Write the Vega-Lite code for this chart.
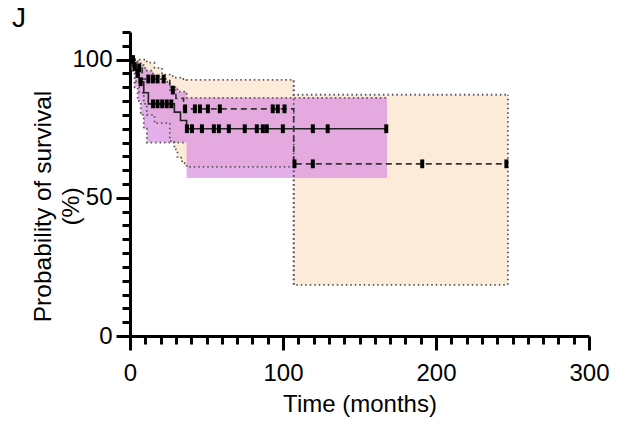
{
  "$schema": "https://vega.github.io/schema/vega-lite/v6.json",
  "width": 459,
  "height": 304,
  "autosize": "none",
  "padding": {"left": 130, "top": 32, "right": 38, "bottom": 93},
  "background": "white",
  "config": {"view": {"stroke": null}, "font": "Liberation Sans"},
  "title": {"text": "J", "anchor": "start", "frame": "group", "fontSize": 28, "fontWeight": "normal", "dx": -118, "dy": 35, "offset": 0, "baseline": "alphabetic", "color": "black"},
  "datasets": {
    "survA": [
      {"t": 0, "s": 100}, {"t": 2, "s": 97.5}, {"t": 4, "s": 95}, {"t": 6, "s": 92}, {"t": 9, "s": 88}, {"t": 12, "s": 84},
      {"t": 29, "s": 81}, {"t": 33, "s": 78}, {"t": 37, "s": 75}, {"t": 168, "s": 75}
    ],
    "survB": [
      {"t": 0, "s": 100}, {"t": 4, "s": 97}, {"t": 8, "s": 93}, {"t": 26, "s": 89}, {"t": 30, "s": 86}, {"t": 35, "s": 82.2},
      {"t": 107, "s": 62.3}, {"t": 247, "s": 62.3}
    ],
    "ciA": [
      {"t": 0, "lo": 100, "hi": 100}, {"t": 1, "lo": 96, "hi": 100}, {"t": 3, "lo": 90, "hi": 99.5}, {"t": 5, "lo": 85, "hi": 99},
      {"t": 7, "lo": 80, "hi": 98}, {"t": 9, "lo": 75, "hi": 97}, {"t": 11, "lo": 70, "hi": 96}, {"t": 15, "lo": 70, "hi": 94},
      {"t": 20, "lo": 70, "hi": 92}, {"t": 26, "lo": 70, "hi": 90}, {"t": 31, "lo": 70, "hi": 88.4}, {"t": 37, "lo": 57.2, "hi": 86.2},
      {"t": 168, "lo": 57.2, "hi": 86.2}
    ],
    "ciAedge": [
      {"t": 0, "lo": 100}, {"t": 1, "lo": 96}, {"t": 3, "lo": 90}, {"t": 5, "lo": 85}, {"t": 7, "lo": 80}, {"t": 9, "lo": 75},
      {"t": 11, "lo": 70}, {"t": 37, "lo": 70}
    ],
    "ciB": [
      {"t": 0, "lo": 100, "hi": 100}, {"t": 2, "lo": 96, "hi": 100}, {"t": 4, "lo": 92, "hi": 100}, {"t": 6, "lo": 88, "hi": 100},
      {"t": 9, "lo": 84, "hi": 100}, {"t": 11, "lo": 80, "hi": 98.9}, {"t": 16, "lo": 77, "hi": 97}, {"t": 21, "lo": 77, "hi": 94.6},
      {"t": 26, "lo": 70.5, "hi": 94}, {"t": 29, "lo": 67.5, "hi": 93.5}, {"t": 31, "lo": 64.5, "hi": 93.5}, {"t": 34, "lo": 62.5, "hi": 93},
      {"t": 37, "lo": 61.2, "hi": 92.7}, {"t": 107, "lo": 18.5, "hi": 87.3}, {"t": 247, "lo": 18.5, "hi": 87.3}
    ],
    "edges": [
      {"t": 107, "lo": 18.5, "hi": 92.7}, {"t": 247, "lo": 18.5, "hi": 87.3}
    ],
    "cens": [
      {"t": 1, "s": 100}, {"t": 3, "s": 97.5}, {"t": 5, "s": 95}, {"t": 7, "s": 92},
      {"t": 15, "s": 84}, {"t": 18, "s": 84}, {"t": 21, "s": 84}, {"t": 24, "s": 84}, {"t": 27, "s": 84},
      {"t": 37.2, "s": 75}, {"t": 40.5, "s": 75}, {"t": 47, "s": 75}, {"t": 54.8, "s": 75}, {"t": 58.1, "s": 75}, {"t": 64.6, "s": 75},
      {"t": 75, "s": 75}, {"t": 82.9, "s": 75}, {"t": 86.8, "s": 75}, {"t": 89.4, "s": 75}, {"t": 99.9, "s": 75}, {"t": 119.5, "s": 75},
      {"t": 129.2, "s": 75}, {"t": 167.5, "s": 75},
      {"t": 2, "s": 100}, {"t": 6, "s": 97},
      {"t": 12, "s": 93}, {"t": 15, "s": 93}, {"t": 18, "s": 93}, {"t": 22, "s": 93}, {"t": 28, "s": 89},
      {"t": 36, "s": 82.2}, {"t": 42.4, "s": 82.2}, {"t": 45.7, "s": 82.2}, {"t": 50.9, "s": 82.2}, {"t": 58.7, "s": 82.2},
      {"t": 93.3, "s": 82.2}, {"t": 96.6, "s": 82.2}, {"t": 101, "s": 82.2},
      {"t": 107.5, "s": 62.3}, {"t": 119.5, "s": 62.3}, {"t": 191, "s": 62.3}, {"t": 246, "s": 62.3}
    ]
  },
  "layer": [
    {
      "data": {"name": "ciB"},
      "mark": {"type": "area", "interpolate": "step-after", "color": "#FDEBDA"},
      "encoding": {
        "x": {"field": "t", "type": "quantitative", "scale": {"domain": [0, 300], "nice": false},
          "axis": {
            "values": [0,10,20,30,40,50,60,70,80,90,100,110,120,130,140,150,160,170,180,190,200,210,220,230,240,250,260,270,280,290,300],
            "tickCount": 100,
            "labelExpr": "datum.value % 100 === 0 ? datum.label : ''",
            "title": "Time (months)", "titleFontSize": 24, "titleFontWeight": "normal", "titleColor": "black", "titlePadding": 7,
            "labelFontSize": 24, "labelColor": "black", "labelPadding": 11, "labelFlush": false, "labelOverlap": false,
            "domainColor": "black", "domainWidth": 3, "tickColor": "black", "tickWidth": 3,
            "tickSize": {"condition": {"test": "datum.value % 100 === 0", "value": 14}, "value": 8},
            "grid": false
          }},
        "y": {"field": "lo", "type": "quantitative", "scale": {"domain": [0, 110], "nice": false},
          "axis": {
            "values": [0,5,10,15,20,25,30,35,40,45,50,55,60,65,70,75,80,85,90,95,100,105,110],
            "tickCount": 100,
            "labelExpr": "datum.value % 50 === 0 ? datum.label : ''",
            "title": ["Probability of survival", "(%)"], "titleFontSize": 24.5, "titleFontWeight": "normal", "titleColor": "black",
            "titleLineHeight": 28, "titleAngle": 270, "titleAlign": "center", "titleBaseline": "alphabetic", "titleX": -80, "titleY": 174,
            "labelFontSize": 24, "labelColor": "black", "labelPadding": 4, "labelFlush": false, "labelOverlap": false,
            "domainColor": "black", "domainWidth": 3, "tickColor": "black", "tickWidth": 3,
            "tickSize": {"condition": {"test": "datum.value % 50 === 0", "value": 14}, "value": 8},
            "grid": false
          }},
        "y2": {"field": "hi"}
      }
    },
    {
      "data": {"name": "ciA"},
      "mark": {"type": "area", "interpolate": "step-after", "color": "#D98EE2", "opacity": 0.7},
      "encoding": {
        "x": {"field": "t", "type": "quantitative"},
        "y": {"field": "lo", "type": "quantitative"},
        "y2": {"field": "hi"}
      }
    },
    {
      "data": {"name": "ciB"},
      "mark": {"type": "line", "interpolate": "step-after", "color": "#555555", "strokeWidth": 1.8, "strokeDash": [1.5, 3]},
      "encoding": {"x": {"field": "t", "type": "quantitative"}, "y": {"field": "lo", "type": "quantitative"}}
    },
    {
      "data": {"name": "ciB"},
      "mark": {"type": "line", "interpolate": "step-after", "color": "#555555", "strokeWidth": 1.8, "strokeDash": [1.5, 3]},
      "encoding": {"x": {"field": "t", "type": "quantitative"}, "y": {"field": "hi", "type": "quantitative"}}
    },
    {
      "data": {"name": "ciA"},
      "mark": {"type": "line", "interpolate": "step-after", "color": "#555555", "strokeWidth": 1.8, "strokeDash": [1.5, 3]},
      "encoding": {"x": {"field": "t", "type": "quantitative"}, "y": {"field": "hi", "type": "quantitative"}}
    },
    {
      "data": {"name": "ciAedge"},
      "mark": {"type": "line", "interpolate": "step-after", "color": "#555555", "strokeWidth": 1.8, "strokeDash": [1.5, 3]},
      "encoding": {"x": {"field": "t", "type": "quantitative"}, "y": {"field": "lo", "type": "quantitative"}}
    },
    {
      "data": {"name": "edges"},
      "mark": {"type": "rule", "color": "#555555", "strokeWidth": 1.8, "strokeDash": [1.5, 3]},
      "encoding": {"x": {"field": "t", "type": "quantitative"}, "y": {"field": "lo", "type": "quantitative"}, "y2": {"field": "hi"}}
    },
    {
      "data": {"name": "survA"},
      "mark": {"type": "line", "interpolate": "step-after", "color": "#222222", "strokeWidth": 1.6},
      "encoding": {"x": {"field": "t", "type": "quantitative"}, "y": {"field": "s", "type": "quantitative"}}
    },
    {
      "data": {"name": "survB"},
      "mark": {"type": "line", "interpolate": "step-after", "color": "#333333", "strokeWidth": 1.6, "strokeDash": [6, 4]},
      "encoding": {"x": {"field": "t", "type": "quantitative"}, "y": {"field": "s", "type": "quantitative"}}
    },
    {
      "data": {"name": "cens"},
      "mark": {"type": "point", "shape": "M-0.5,-1.1H0.5V1.1H-0.5Z", "filled": true, "color": "black", "opacity": 1, "size": 64},
      "encoding": {"x": {"field": "t", "type": "quantitative"}, "y": {"field": "s", "type": "quantitative"}}
    }
  ]
}
